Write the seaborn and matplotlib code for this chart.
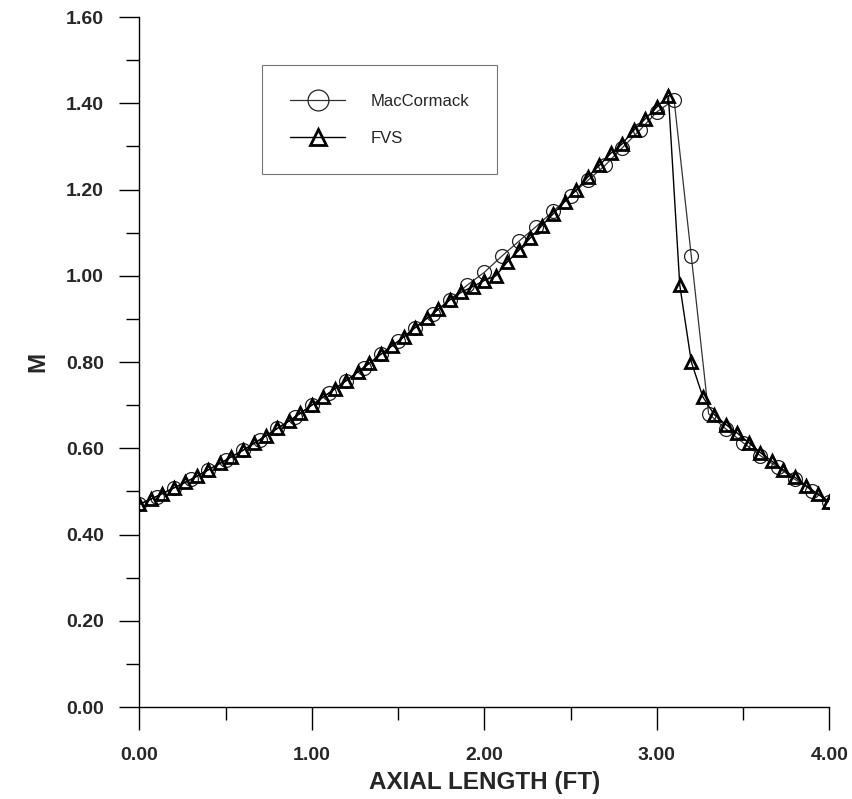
import numpy as np
import pandas as pd
import matplotlib
matplotlib.use("Agg")
import matplotlib.pyplot as plt
import seaborn as sns
from matplotlib.lines import Line2D
from matplotlib.ticker import MultipleLocator

# ---- data ----
mac_x = [0.0, 0.1, 0.2, 0.3, 0.4, 0.5, 0.6, 0.7, 0.8, 0.9,
         1.0, 1.1, 1.2, 1.3, 1.4, 1.5, 1.6, 1.7, 1.8, 1.9,
         2.0, 2.1, 2.2, 2.3, 2.4, 2.5, 2.6, 2.7, 2.8, 2.9,
         3.0, 3.1, 3.2, 3.3, 3.4, 3.5, 3.6, 3.7, 3.8, 3.9, 4.0]
mac_m = [0.470, 0.488, 0.508, 0.528, 0.550, 0.572, 0.595, 0.620, 0.646, 0.672,
         0.700, 0.728, 0.757, 0.787, 0.818, 0.848, 0.880, 0.912, 0.944, 0.978,
         1.008, 1.045, 1.080, 1.114, 1.150, 1.186, 1.221, 1.256, 1.297, 1.337,
         1.380, 1.408, 1.045, 0.680, 0.645, 0.613, 0.583, 0.556, 0.528, 0.502, 0.476]

fvs_x = [0.000, 0.067, 0.133, 0.200, 0.267, 0.333, 0.400, 0.467, 0.533, 0.600,
         0.667, 0.733, 0.800, 0.867, 0.933, 1.000, 1.067, 1.133, 1.200, 1.267,
         1.333, 1.400, 1.467, 1.533, 1.600, 1.667, 1.733, 1.800, 1.867, 1.933,
         2.000, 2.067, 2.133, 2.200, 2.267, 2.333, 2.400, 2.467, 2.533, 2.600,
         2.667, 2.733, 2.800, 2.867, 2.933, 3.000, 3.067, 3.133, 3.200, 3.267,
         3.333, 3.400, 3.467, 3.533, 3.600, 3.667, 3.733, 3.800, 3.867, 3.933, 4.000]
fvs_m = [0.470, 0.482, 0.495, 0.508, 0.521, 0.535, 0.550, 0.565, 0.580, 0.595,
         0.612, 0.629, 0.646, 0.663, 0.681, 0.700, 0.719, 0.738, 0.757, 0.777,
         0.797, 0.818, 0.838, 0.858, 0.880, 0.901, 0.922, 0.944, 0.962, 0.975,
         0.989, 1.000, 1.032, 1.059, 1.088, 1.116, 1.144, 1.172, 1.199, 1.229,
         1.256, 1.284, 1.306, 1.338, 1.364, 1.391, 1.418, 0.978, 0.800, 0.719,
         0.678, 0.655, 0.635, 0.613, 0.590, 0.570, 0.550, 0.533, 0.513, 0.494, 0.476]

x_ticks = [0.0, 1.0, 2.0, 3.0, 4.0]
x_tick_labels = ["0.00", "1.00", "2.00", "3.00", "4.00"]
y_ticks = [0.0, 0.2, 0.4, 0.6, 0.8, 1.0, 1.2, 1.4, 1.6]
y_tick_labels = ["0.00", "0.20", "0.40", "0.60", "0.80", "1.00", "1.20", "1.40", "1.60"]
series_names = ["MacCormack", "FVS"]

sns.set_style("ticks")
plt.rcParams["font.family"] = ["Liberation Sans", "DejaVu Sans"]

fig = plt.figure(figsize=(8.52, 7.99), dpi=100)
ax = fig.add_axes([0.1635, 0.1151, 0.8099, 0.8636])

df_mac = pd.DataFrame({"x": mac_x, "M": mac_m})
df_fvs = pd.DataFrame({"x": fvs_x, "M": fvs_m})

sns.lineplot(data=df_mac, x="x", y="M", ax=ax, sort=False, estimator=None,
             color="#333333", linewidth=0.9, marker="o", markersize=10,
             markerfacecolor="none", markeredgecolor="#222222", markeredgewidth=0.9,
             zorder=2)
sns.lineplot(data=df_fvs, x="x", y="M", ax=ax, sort=False, estimator=None,
             color="black", linewidth=1.0, marker="^", markersize=8.5,
             markerfacecolor="none", markeredgecolor="black", markeredgewidth=2.0,
             zorder=3)

ax.set_xlim(0, 4)
ax.set_ylim(0, 1.6)
ax.set_xticks(x_ticks)
ax.set_xticklabels(x_tick_labels)
ax.set_yticks(y_ticks)
ax.set_yticklabels(y_tick_labels)
ax.xaxis.set_minor_locator(MultipleLocator(0.5))
ax.yaxis.set_minor_locator(MultipleLocator(0.1))
ax.tick_params(axis="x", which="major", length=16.5, width=1.0, color="black",
               labelsize=14, pad=12)
ax.tick_params(axis="y", which="major", length=14.5, width=1.0, color="black",
               labelsize=14, pad=11)
ax.tick_params(axis="both", which="minor", length=9.5, width=1.0, color="black")
for lab in ax.get_xticklabels() + ax.get_yticklabels():
    lab.set_fontweight("bold")

sns.despine(ax=ax)
for s in ["left", "bottom"]:
    ax.spines[s].set_linewidth(1.0)
    ax.spines[s].set_color("black")

ax.set_xlabel("AXIAL LENGTH (FT)", fontsize=17.5, fontweight="bold", labelpad=5)
ax.set_ylabel("M", fontsize=17.5, fontweight="bold", labelpad=12)

handles = [
    Line2D([], [], color="#333333", linewidth=0.9, marker="o", markersize=15,
           markerfacecolor="none", markeredgecolor="#222222", markeredgewidth=0.9),
    Line2D([], [], color="black", linewidth=1.0, marker="^", markersize=11,
           markerfacecolor="none", markeredgecolor="black", markeredgewidth=2.0),
]
leg = ax.legend(handles, series_names, loc="upper left",
                bbox_to_anchor=(0.178, 0.930, 0.340, 0.0), mode="expand",
                frameon=True, fancybox=False, fontsize=12, handlelength=3.3,
                handletextpad=1.5, borderpad=1.7, labelspacing=1.35,
                borderaxespad=0.0)
leg.get_frame().set_edgecolor("#555555")
leg.get_frame().set_linewidth(0.8)

fig.savefig("out.png", dpi=100)
